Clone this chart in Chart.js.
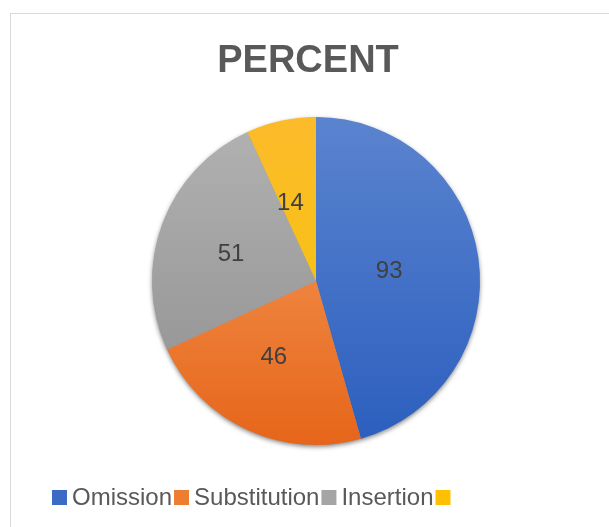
<!DOCTYPE html>
<html>
<head>
<meta charset="utf-8">
<script src="https://cdn.jsdelivr.net/npm/chart.js@4"></script>
<style>
  html, body { margin: 0; padding: 0; background: #ffffff; overflow: hidden; }
  #wrap { position: relative; width: 609px; height: 527px; }
  #frame { position: absolute; left: 10px; top: 13px; width: 700px; height: 700px;
           border: 1px solid #d9d9d9; box-sizing: border-box; }
  #c { position: absolute; left: 0; top: 0; }
</style>
</head>
<body>
<div id="wrap">
  <div id="frame"></div>
  <canvas id="c" width="609" height="527"></canvas>
</div>
<script>
// ---- data ----
const TITLE = 'PERCENT';
const categories = ['Omission', 'Substitution', 'Insertion', ''];
const values = [93, 46, 51, 14];
// ---- styles ----
const topColors = ['#5b84cf', '#f7a262', '#b2b2b2', '#fcbb2b'];
const bottomColors = ['#2b5ebe', '#e6651a', '#8e8e8e', '#f2c700'];
const legendColors = ['#3a6cc6', '#ed7d31', '#a5a5a5', '#ffc000'];
const FONT = '"Liberation Sans", Arial, sans-serif';

function gradFill(ctx) {
  const chart = ctx.chart;
  const area = chart.chartArea;
  const i = ctx.dataIndex;
  if (!area) return legendColors[i];
  const g = chart.ctx.createLinearGradient(0, area.top, 0, area.bottom);
  g.addColorStop(0, topColors[i]);
  g.addColorStop(1, bottomColors[i]);
  return g;
}

const shadowPlugin = {
  id: 'pieShadow',
  beforeDatasetsDraw(chart) {
    const el = chart.getDatasetMeta(0).data[0];
    if (!el) return;
    const ctx = chart.ctx;
    ctx.save();
    ctx.shadowColor = 'rgba(0,0,0,0.55)';
    ctx.shadowBlur = 5;
    ctx.shadowOffsetX = 0;
    ctx.shadowOffsetY = 2;
    ctx.fillStyle = '#999999';
    ctx.beginPath();
    ctx.arc(el.x, el.y, el.outerRadius - 0.5, 0, Math.PI * 2);
    ctx.fill();
    ctx.restore();
  }
};

const labelPlugin = {
  id: 'sliceLabels',
  afterDatasetsDraw(chart) {
    const ctx = chart.ctx;
    const meta = chart.getDatasetMeta(0);
    ctx.save();
    ctx.font = '24px ' + FONT;
    ctx.fillStyle = '#404040';
    ctx.textAlign = 'center';
    ctx.textBaseline = 'middle';
    meta.data.forEach((el, i) => {
      const p = el.tooltipPosition();
      ctx.fillText(String(values[i]), p.x - 8, p.y + 2);
    });
    ctx.restore();
  }
};

const titlePlugin = {
  id: 'customTitle',
  afterDraw(chart) {
    const ctx = chart.ctx;
    ctx.save();
    ctx.font = 'bold 38px ' + FONT;
    ctx.fillStyle = '#595959';
    ctx.textAlign = 'center';
    ctx.textBaseline = 'alphabetic';
    ctx.fillText(TITLE, 308, 72);
    ctx.restore();
  }
};

const legendPlugin = {
  id: 'customLegend',
  afterDraw(chart) {
    const ctx = chart.ctx;
    ctx.save();
    ctx.font = '24px ' + FONT;
    ctx.textBaseline = 'alphabetic';
    ctx.textAlign = 'left';
    let x = 52;
    const yc = 497;
    categories.forEach((lab, i) => {
      ctx.fillStyle = legendColors[i];
      ctx.fillRect(x, yc - 7, 15, 15);
      x += 15 + 5;
      if (lab) {
        ctx.fillStyle = '#595959';
        ctx.fillText(lab, x, 505);
        x += ctx.measureText(lab).width + 2;
      }
    });
    ctx.restore();
  }
};

new Chart(document.getElementById('c'), {
  type: 'pie',
  data: {
    labels: categories,
    datasets: [{
      data: values,
      backgroundColor: gradFill,
      borderWidth: 0
    }]
  },
  options: {
    responsive: false,
    animation: false,
    layout: { padding: { left: 152, right: 129, top: 117, bottom: 82 } },
    plugins: {
      legend: { display: false },
      title: { display: false },
      tooltip: { enabled: false }
    }
  },
  plugins: [shadowPlugin, labelPlugin, titlePlugin, legendPlugin]
});
</script>
</body>
</html>
